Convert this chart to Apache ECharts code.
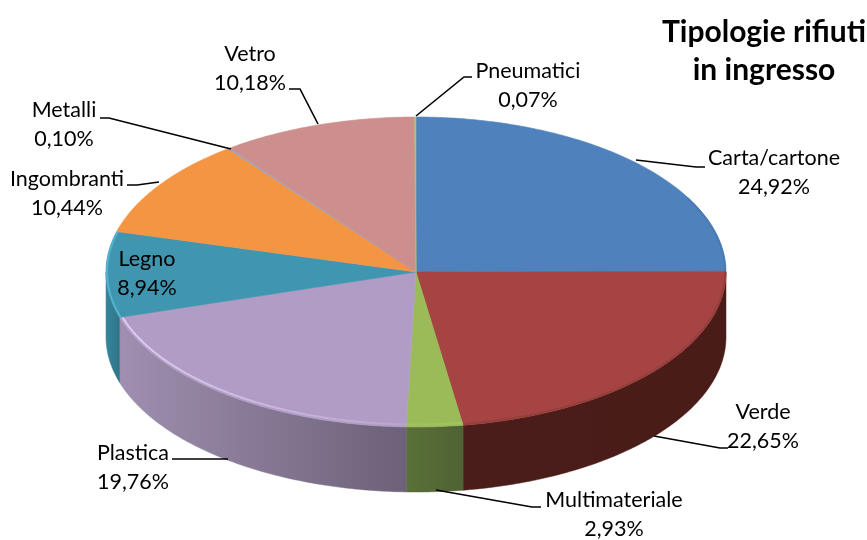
<!DOCTYPE html>
<html>
<head>
<meta charset="utf-8">
<script src="https://cdn.jsdelivr.net/npm/echarts@6/dist/echarts.min.js"></script>
<style>
  html, body { margin: 0; padding: 0; background: #fff; }
  #chart { width: 867px; height: 540px; }
</style>
</head>
<body>
<div id="chart"></div>
<script>
const categories = ['Carta/cartone', 'Verde', 'Multimateriale', 'Plastica', 'Legno', 'Ingombranti', 'Metalli', 'Vetro', 'Pneumatici'];
const percentages = [24.92, 22.65, 2.93, 19.76, 8.94, 10.44, 0.10, 10.18, 0.07];

const topColors = ['#4f81bd', '#a54442', '#9bbb59', '#b09cc4', '#4096b0', '#f49544', '#8ba7d0', '#cd8e8e', '#a9c27b'];
// left and right shade of the bright edge on each slice, and how far in it sits
const rimColors = [
  ['#4a7ab3', '#4a7ab3'],
  ['#973e3c', '#973e3c'],
  ['#a3c263', '#a3c263'],
  ['#dccdf0', '#b8a5cc'],
  ['#4fb2cf', '#4fb2cf'],
  ['#f49544', '#f49544'],
  ['#8ba7d0', '#8ba7d0'],
  ['#cd8e8e', '#cd8e8e'],
  ['#a9c27b', '#a9c27b']
];
const rimInsets = [1, 1, 2.5, 2.5, 1, 1, 1, 1, 1];
// left and right shade of each outer wall
const wallColors = [
  ['#2c4a6e', '#2c4a6e'],
  ['#4a1d1a', '#4a1c18'],
  ['#5a7038', '#4f6233'],
  ['#a08fb0', '#6c6178'],
  ['#37869c', '#2f7488'],
  ['#b06a30', '#b06a30'],
  ['#64789a', '#64789a'],
  ['#94666a', '#94666a'],
  ['#7a8c58', '#7a8c58']
];

// label centre per category, null end means no leader line
const labelCenters = [[774, 173], [763, 427], [614, 515], [133, 468], [147, 274], [67, 194], [64, 125], [250, 69], [528, 86]];
const leaderLines = [
  [[636, 160], [696, 167], [705, 167]],
  [[654, 436], [720, 448], [728, 448]],
  [[436, 490], [532, 507], [541, 507]],
  [[228, 459], [196, 459], [172, 459]],
  null,
  [[159, 182], [137, 185], [127, 185]],
  [[231, 149], [109, 118], [100, 118]],
  [[318, 124], [300, 89], [289, 89]],
  [[416, 116], [464, 77], [472, 77]]
];

const cx = 416, cy = 272, rx = 310, ry = 155, depth = 65;

const total = percentages.reduce((a, b) => a + b, 0);
const startAngles = [];
percentages.reduce((sum, v, i) => { startAngles[i] = sum / total * Math.PI * 2; return sum + v; }, 0);

function rimPoint(t, dy, inset) {
  const k = inset || 0;
  return [cx + (rx - k) * Math.sin(t), cy - (ry - k) * Math.cos(t) + (dy || 0)];
}

function arcPoints(a, b, dy, inset) {
  const n = Math.max(2, Math.ceil((b - a) / 0.012));
  const pts = [];
  for (let i = 0; i <= n; i++) pts.push(rimPoint(a + (b - a) * i / n, dy, inset));
  return pts;
}

function sliceRange(i) {
  return [startAngles[i], startAngles[i] + percentages[i] / total * Math.PI * 2];
}

function sideGradient(pair) {
  return { type: 'linear', x: 0, y: 0, x2: 1, y2: 0, colorStops: [
    { offset: 0, color: pair[0] }, { offset: 1, color: pair[1] }
  ] };
}

function renderWall(params, api) {
  const i = api.value(0);
  const [a0, b0] = sliceRange(i);
  const a = Math.max(a0, Math.PI / 2), b = Math.min(b0, Math.PI * 1.5);
  if (b <= a) return { type: 'group', children: [] };
  const fill = sideGradient(wallColors[i]);
  return {
    type: 'polygon', silent: true,
    shape: { points: arcPoints(a, b, 0).concat(arcPoints(a, b, depth).reverse()) },
    style: { fill: fill, stroke: fill, lineWidth: 0.5 }
  };
}

function renderTop(params, api) {
  const i = api.value(0);
  const [a, b] = sliceRange(i);
  const children = [{
    type: 'polygon', silent: true,
    shape: { points: [[cx, cy]].concat(arcPoints(a, b, 0)) },
    style: { fill: topColors[i], stroke: topColors[i], lineWidth: 0.6 }
  }];
  const fa = Math.max(a, Math.PI / 2 - 0.5), fb = Math.min(b, Math.PI * 1.5 + 0.3);
  if (fb > fa) {
    children.push({
      type: 'polyline', silent: true,
      shape: { points: arcPoints(fa, fb, 0, rimInsets[i]) },
      style: { fill: null, stroke: sideGradient(rimColors[i]), lineWidth: 2 }
    });
  }
  return { type: 'group', children: children };
}

function renderLabel(params, api) {
  const i = api.value(0);
  const children = [{
    type: 'text', silent: true,
    style: {
      x: labelCenters[i][0], y: labelCenters[i][1],
      text: categories[i] + '\n' + percentages[i].toFixed(2).replace('.', ',') + '%',
      align: 'center', verticalAlign: 'middle',
      font: '21.5px Lato', lineHeight: 29, fill: '#000'
    }
  }];
  if (leaderLines[i]) {
    children.push({
      type: 'polyline', silent: true,
      shape: { points: leaderLines[i] },
      style: { fill: null, stroke: '#000', lineWidth: 1.6 }
    });
  }
  return { type: 'group', children: children };
}

const rows = categories.map((name, i) => ({ name: name, value: [i, percentages[i]] }));

const chart = echarts.init(document.getElementById('chart'));
chart.setOption({
  animation: false,
  backgroundColor: '#fff',
  title: {
    text: 'Tipologie rifiuti\nin ingresso',
    left: 759, top: 8, textAlign: 'center',
    textStyle: { fontFamily: 'Lato', fontWeight: 'bold', fontSize: 30, lineHeight: 38, color: '#000' }
  },
  series: [
    { type: 'custom', coordinateSystem: 'none', z: 1, data: rows, renderItem: renderWall },
    { type: 'custom', coordinateSystem: 'none', z: 2, data: rows, renderItem: renderTop },
    { type: 'custom', coordinateSystem: 'none', z: 3, data: rows, renderItem: renderLabel }
  ]
});
</script>
</body>
</html>
